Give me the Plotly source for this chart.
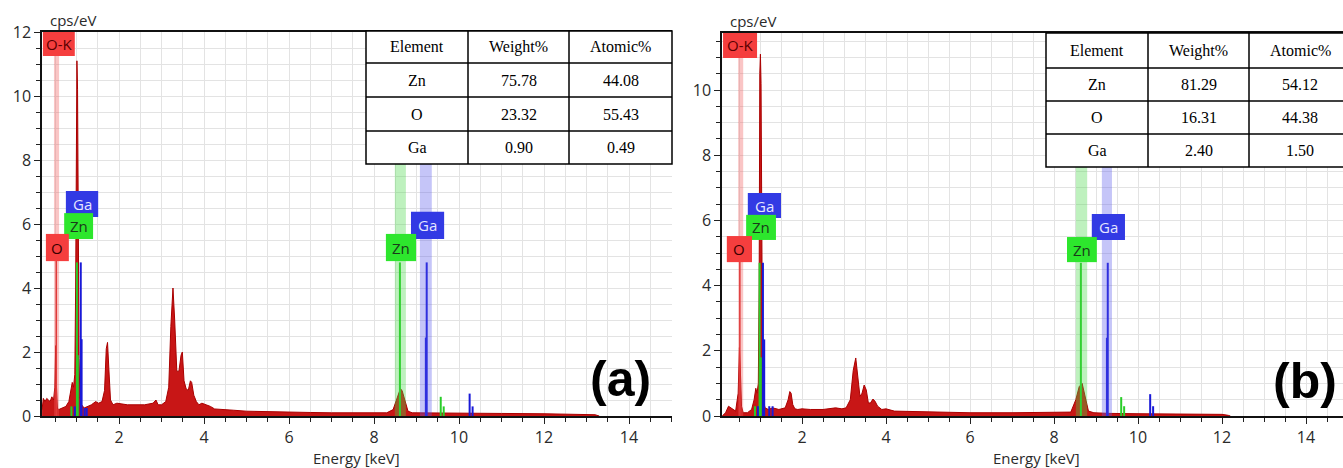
import plotly.graph_objects as go

W, H = 1343, 468

# ---------------- data ----------------
energy_a = [0.19, 0.22, 0.26, 0.30, 0.34, 0.38, 0.42, 0.46, 0.49, 0.51, 0.52, 0.535, 0.55, 0.58, 0.65, 0.75,
            0.82, 0.86, 0.90, 0.93, 0.96, 0.98, 0.995, 1.01, 1.025, 1.04, 1.06, 1.08, 1.12, 1.18, 1.25, 1.35, 1.45,
            1.52, 1.60, 1.66, 1.70, 1.73, 1.76, 1.80, 1.86, 1.95, 2.05, 2.2, 2.4, 2.6, 2.8, 2.87, 2.92, 3.0,
            3.1, 3.17, 3.22, 3.27, 3.31, 3.36, 3.41, 3.46, 3.49, 3.53, 3.58, 3.63, 3.68, 3.71, 3.76, 3.82,
            3.88, 3.95, 4.05, 4.15, 4.25, 4.4, 4.7, 5.0, 5.5, 6.0, 6.5, 7.0, 7.5, 8.0, 8.3, 8.45, 8.55, 8.62,
            8.66, 8.72, 8.8, 8.9, 9.2, 9.6, 10.0, 11.0, 12.0, 12.9, 13.2, 13.3]
counts_a = [0.2, 0.55, 0.45, 0.55, 0.5, 0.45, 0.6, 0.5, 0.9, 2.2, 1.2, 0.35, 0.25, 0.2, 0.25, 0.3,
            0.45, 0.8, 1.05, 0.9, 1.3, 4.0, 10.5, 11.1, 10.2, 5.0, 1.8, 0.6, 0.35, 0.25, 0.3, 0.35, 0.45,
            0.4, 0.45, 0.8, 2.1, 2.3, 1.5, 0.5, 0.35, 0.4, 0.38, 0.35, 0.35, 0.35, 0.4, 0.5, 0.35, 0.35,
            0.45, 0.9, 2.8, 4.0, 3.0, 1.4, 1.4, 1.9, 2.0, 1.1, 0.85, 0.8, 1.1, 1.05, 0.65, 0.45,
            0.35, 0.4, 0.35, 0.3, 0.22, 0.2, 0.18, 0.15, 0.13, 0.12, 0.11, 0.1, 0.1, 0.1, 0.1, 0.2, 0.55, 0.85,
            0.8, 0.5, 0.15, 0.1, 0.1, 0.1, 0.08, 0.08, 0.07, 0.05, 0.04, 0.0]

energy_b = [0.10, 0.18, 0.25, 0.30, 0.35, 0.42, 0.48, 0.51, 0.53, 0.56, 0.6, 0.7, 0.8, 0.86, 0.90, 0.93,
            0.96, 0.98, 0.995, 1.01, 1.025, 1.04, 1.06, 1.08, 1.12, 1.2, 1.3, 1.45, 1.6, 1.67, 1.71, 1.74, 1.78,
            1.83, 1.9, 2.0, 2.2, 2.5, 2.8, 2.95, 3.05, 3.15, 3.22, 3.28, 3.33, 3.38, 3.43, 3.48, 3.53,
            3.58, 3.63, 3.69, 3.74, 3.8, 3.9, 4.0, 4.2, 4.5, 5.0, 5.5, 6.0, 7.0, 8.0, 8.4, 8.52, 8.6,
            8.67, 8.74, 8.82, 8.95, 9.3, 10.0, 11.0, 12.0, 12.15, 12.2]
counts_b = [0.0, 0.1, 0.3, 0.25, 0.2, 0.15, 0.7, 2.1, 1.5, 0.3, 0.1, 0.1, 0.2, 0.5, 0.85, 0.7,
            1.0, 4.0, 10.5, 11.1, 10.2, 5.0, 1.8, 0.5, 0.25, 0.2, 0.25, 0.2, 0.25, 0.5, 0.75, 0.7, 0.35,
            0.22, 0.2, 0.22, 0.2, 0.2, 0.25, 0.22, 0.25, 0.5, 1.4, 1.78, 1.2, 0.6, 0.7, 0.95, 0.8,
            0.4, 0.4, 0.52, 0.45, 0.3, 0.2, 0.22, 0.15, 0.14, 0.12, 0.11, 0.1, 0.1, 0.1, 0.12, 0.5, 0.9,
            1.0, 0.6, 0.15, 0.1, 0.08, 0.07, 0.07, 0.05, 0.02, 0.0]

zn_lines_a = [0.88, 1.01, 1.03, 8.61, 9.57, 9.64]
zn_heights_a = [0.3, 4.8, 1.9, 4.8, 0.6, 0.3]
ga_lines_a = [0.96, 1.10, 1.12, 1.19, 1.24, 9.24, 9.22, 10.25, 10.32]
ga_heights_a = [0.3, 4.8, 2.4, 0.25, 0.25, 4.8, 2.45, 0.7, 0.3]
o_lines_a = [0.525]
o_heights_a = [4.85]

zn_lines_b = [0.88, 0.99, 1.02, 8.64, 9.60, 9.67]
zn_heights_b = [0.3, 4.7, 1.8, 4.7, 0.58, 0.3]
ga_lines_b = [0.95, 1.07, 1.10, 1.22, 1.30, 9.28, 9.26, 10.29, 10.36]
ga_heights_b = [0.3, 4.7, 2.35, 0.3, 0.3, 4.7, 2.4, 0.67, 0.3]
o_lines_b = [0.52]
o_heights_b = [4.75]

table_header = ["Element", "Weight%", "Atomic%"]
table_elements = ["Zn", "O", "Ga"]
weight_a = ["75.78", "23.32", "0.90"]
atomic_a = ["44.08", "55.43", "0.49"]
weight_b = ["81.29", "16.31", "2.40"]
atomic_b = ["54.12", "44.38", "1.50"]

x_tick_vals = [2, 4, 6, 8, 10, 12, 14]
# --------------------------------------

def px(x):
    return x / W

def py(y):
    return 1 - y / H

SPEC_FILL = "rgb(200,22,22)"
SPEC_LINE = "rgb(170,0,0)"
GREEN = "rgb(40,205,40)"
BLUE = "rgb(25,25,215)"
RED_STICK = "rgb(215,40,40)"

fig = go.Figure()


def sticks(es, hs):
    xs, ys = [], []
    for e, h in zip(es, hs):
        xs += [e, e, None]
        ys += [0, h, None]
    return xs, ys


def add_panel(xr, yr, energy, counts, zn, znh, ga, gah, o, oh):
    fig.add_trace(go.Scatter(x=energy, y=counts, mode="lines", fill="tozeroy",
                             fillcolor=SPEC_FILL, line=dict(color=SPEC_LINE, width=1),
                             xaxis=xr, yaxis=yr, showlegend=False, hoverinfo="skip"))
    for es, hs, col, w in ((o, oh, RED_STICK, 1.5), (zn, znh, GREEN, 2), (ga, gah, BLUE, 2)):
        xs, ys = sticks(es, hs)
        fig.add_trace(go.Scatter(x=xs, y=ys, mode="lines", line=dict(color=col, width=w),
                                 xaxis=xr, yaxis=yr, showlegend=False, hoverinfo="skip"))


add_panel("x", "y", energy_a, counts_a, zn_lines_a, zn_heights_a, ga_lines_a, ga_heights_a, o_lines_a, o_heights_a)
add_panel("x2", "y2", energy_b, counts_b, zn_lines_b, zn_heights_b, ga_lines_b, ga_heights_b, o_lines_b, o_heights_b)

tickfont = dict(family="Open Sans, Noto Sans, sans-serif", size=16, color="#2a2a2a")
grid = "#e3e3e3"


def xaxis(domain, rng, anchor):
    return dict(domain=domain, range=rng, anchor=anchor, tickmode="array", tickvals=x_tick_vals,
                ticks="outside", ticklen=6, tickcolor="#222", tickwidth=1, showgrid=True, gridcolor=grid,
                minor=dict(dtick=0.5, tick0=0, ticks="outside", ticklen=4, tickcolor="#222", showgrid=True,
                           gridcolor=grid),
                showline=True, linecolor="#111", linewidth=1.5, mirror=True, tickfont=tickfont,
                zeroline=False, fixedrange=True, automargin=False)


def yaxis(domain, rng, anchor):
    return dict(domain=domain, range=rng, anchor=anchor, dtick=2, tick0=0,
                ticks="outside", ticklen=6, tickcolor="#222", tickwidth=1, showgrid=True, gridcolor=grid,
                minor=dict(dtick=0.5, tick0=0, ticks="outside", ticklen=4, tickcolor="#222", showgrid=True,
                           gridcolor=grid),
                showline=True, linecolor="#111", linewidth=1.5, tickfont=tickfont, zeroline=False,
                fixedrange=True, automargin=False)


xa_rng = [(42 - 34) / 42.5, (672 - 34) / 42.5]
ya_rng = [0, 12]
xb_rng = [(722 - 718) / 42, (1343 - 718) / 42]
yb_rng = [0, (416 - 33) / 32.6]

shapes = []
annotations = []


def band(xref, yref, x0, x1, y1, color):
    shapes.append(dict(type="rect", xref=xref, yref=yref, x0=x0, x1=x1, y0=0, y1=y1,
                       fillcolor=color, line=dict(width=0), layer="above"))


def label(xref, yref, x0, x1, y0, y1, text, fill, tcol):
    shapes.append(dict(type="rect", xref=xref, yref=yref, x0=x0, x1=x1, y0=y0, y1=y1,
                       fillcolor=fill, line=dict(width=0), layer="above"))
    annotations.append(dict(xref=xref, yref=yref, x=(x0 + x1) / 2, y=(y0 + y1) / 2, text=text,
                            xanchor="center", yanchor="middle",
                            showarrow=False, font=dict(family="Open Sans, Noto Sans, sans-serif", size=15,
                                                        color=tcol)))


PINK_BAND = "rgba(240,90,90,0.35)"
GREEN_BAND = "rgba(70,215,70,0.35)"
BLUE_BAND = "rgba(90,90,235,0.35)"
RED_BOX = "rgb(245,62,62)"
GREEN_BOX = "rgb(45,230,45)"
BLUE_BOX = "rgb(50,58,228)"

# panel (a)
band("x", "y", 0.47, 0.59, 11.25, PINK_BAND)
band("x", "y", 8.49, 8.75, 12, GREEN_BAND)
band("x", "y", 9.08, 9.36, 12, BLUE_BAND)
label("x", "y", 0.21, 0.96, 11.25, 12.0, "O-K", RED_BOX, "#5a0000")
label("x", "y", 0.75, 1.51, 6.22, 7.03, "Ga", BLUE_BOX, "#e6e6ff")
label("x", "y", 0.71, 1.39, 5.53, 6.34, "Zn", GREEN_BOX, "#1a3a1a")
label("x", "y", 0.28, 0.82, 4.84, 5.69, "O", RED_BOX, "#3a0000")
label("x", "y", 8.87, 9.65, 5.53, 6.38, "Ga", BLUE_BOX, "#e6e6ff")
label("x", "y", 8.28, 8.99, 4.84, 5.69, "Zn", GREEN_BOX, "#1a3a1a")

# panel (b)
band("x2", "y2", 0.48, 0.60, 10.98, PINK_BAND)
band("x2", "y2", 8.52, 8.79, 12, GREEN_BAND)
band("x2", "y2", 9.14, 9.38, 12, BLUE_BAND)
label("x2", "y2", 0.12, 0.93, 10.98, 11.75, "O-K", RED_BOX, "#5a0000")
label("x2", "y2", 0.71, 1.50, 6.07, 6.84, "Ga", BLUE_BOX, "#e6e6ff")
label("x2", "y2", 0.67, 1.38, 5.40, 6.17, "Zn", GREEN_BOX, "#1a3a1a")
label("x2", "y2", 0.21, 0.81, 4.72, 5.52, "O", RED_BOX, "#3a0000")
label("x2", "y2", 8.90, 9.69, 5.40, 6.20, "Ga", BLUE_BOX, "#e6e6ff")
label("x2", "y2", 8.31, 9.02, 4.72, 5.49, "Zn", GREEN_BOX, "#1a3a1a")


def table(cols_px, rows_px, weights, atomics):
    x0, x1 = cols_px[0], cols_px[-1]
    y0, y1 = rows_px[0], rows_px[-1]
    shapes.append(dict(type="rect", xref="paper", yref="paper", x0=px(x0), x1=px(x1), y0=py(y1), y1=py(y0),
                       fillcolor="white", line=dict(color="black", width=1.5), layer="above"))
    for c in cols_px[1:-1]:
        shapes.append(dict(type="line", xref="paper", yref="paper", x0=px(c), x1=px(c), y0=py(y1), y1=py(y0),
                           line=dict(color="black", width=1.5), layer="above"))
    for r in rows_px[1:-1]:
        shapes.append(dict(type="line", xref="paper", yref="paper", x0=px(x0), x1=px(x1), y0=py(r), y1=py(r),
                           line=dict(color="black", width=1.5), layer="above"))
    rows = [table_header] + [[e, w, a] for e, w, a in zip(table_elements, weights, atomics)]
    for ri, row in enumerate(rows):
        for ci, txt in enumerate(row):
            cx = (cols_px[ci] + cols_px[ci + 1]) / 2
            cy = (rows_px[ri] + rows_px[ri + 1]) / 2
            annotations.append(dict(xref="paper", yref="paper", x=px(cx), y=py(cy), text=txt, showarrow=False,
                                    xanchor="center", yanchor="middle",
                                    font=dict(family="Liberation Serif, Times New Roman, serif", size=16,
                                              color="black")))


table([366, 468, 569, 672], [31, 63, 97, 131, 164], weight_a, atomic_a)
table([1046, 1148, 1249, 1351], [33, 68, 101, 134, 167], weight_b, atomic_b)

axis_font = dict(family="Open Sans, Noto Sans, sans-serif", size=15, color="#2a2a2a")
for x, y, t in ((73, 20, "cps/eV"), (753, 21, "cps/eV"), (357, 458, "Energy [keV]"), (1036, 458, "Energy [keV]")):
    annotations.append(dict(xref="paper", yref="paper", x=px(x), y=py(y), text=t, showarrow=False,
                            xanchor="center", yanchor="middle", font=axis_font))

for x, y, t in ((620, 379, "(a)"), (1305, 381, "(b)")):
    annotations.append(dict(xref="paper", yref="paper", x=px(x), y=py(y), text="<b>%s</b>" % t, showarrow=False,
                            xanchor="center", yanchor="middle",
                            font=dict(family="Liberation Sans, Arial, sans-serif", size=50, color="black")))

fig.update_layout(
    width=W, height=H, margin=dict(l=0, r=0, t=0, b=0, autoexpand=False),
    paper_bgcolor="white", plot_bgcolor="white",
    xaxis=xaxis([px(42), px(672)], xa_rng, "y"),
    yaxis=yaxis([py(416), py(32)], ya_rng, "x"),
    xaxis2=xaxis([px(722), 1.0], xb_rng, "y2"),
    yaxis2=yaxis([py(416), py(33)], yb_rng, "x2"),
    shapes=shapes, annotations=annotations, showlegend=False,
)

fig.write_html("out.html")
